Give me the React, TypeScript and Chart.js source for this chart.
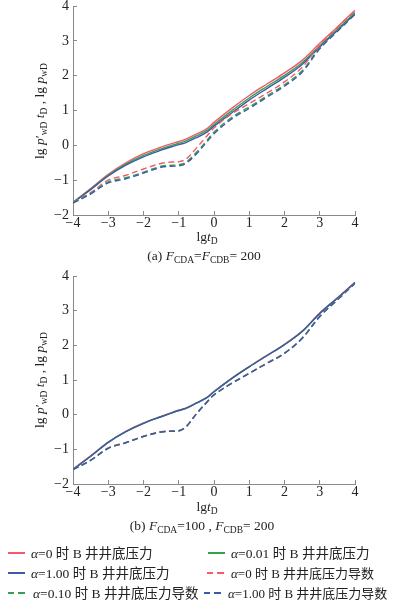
import React, { useEffect, useRef } from "react";
import { Chart, registerables } from "chart.js";

Chart.register(...registerables);

// lg tD sample points
const tD = [-4, -3.5, -3, -2.5, -2, -1.5, -1.2, -1, -0.8, -0.5, -0.2, 0, 0.5, 1, 1.5, 2, 2.5, 3, 3.5, 4];

// (a) FCDA = FCDB = 200
const aRedP = [-1.63, -1.24, -0.83, -0.5, -0.24, -0.05, 0.05, 0.11, 0.18, 0.32, 0.48, 0.66, 1.06, 1.43, 1.76, 2.08, 2.44, 2.93, 3.4, 3.88];
const aGreenP = [-1.64, -1.26, -0.86, -0.54, -0.29, -0.1, 0, 0.06, 0.13, 0.27, 0.43, 0.6, 0.99, 1.36, 1.69, 2.01, 2.37, 2.86, 3.33, 3.81];
const aBlueP = [-1.65, -1.27, -0.88, -0.57, -0.33, -0.14, -0.04, 0.02, 0.08, 0.22, 0.38, 0.55, 0.93, 1.3, 1.63, 1.95, 2.32, 2.82, 3.3, 3.78];
const aRedD = [-1.64, -1.36, -1.0, -0.86, -0.68, -0.52, -0.48, -0.47, -0.4, -0.08, 0.27, 0.5, 0.9, 1.2, 1.5, 1.82, 2.24, 2.88, 3.38, 3.87];
const aGreenD = [-1.65, -1.38, -1.05, -0.93, -0.77, -0.6, -0.57, -0.56, -0.49, -0.2, 0.14, 0.38, 0.8, 1.1, 1.42, 1.74, 2.14, 2.8, 3.3, 3.78];
const aBlueD = [-1.66, -1.4, -1.08, -0.96, -0.8, -0.63, -0.6, -0.59, -0.52, -0.25, 0.1, 0.33, 0.76, 1.06, 1.38, 1.7, 2.1, 2.77, 3.27, 3.76];

// (b) FCDA = 100, FCDB = 200
const bRedP = [-1.57, -1.19, -0.79, -0.48, -0.24, -0.05, 0.06, 0.13, 0.19, 0.34, 0.5, 0.67, 1.05, 1.39, 1.71, 2.03, 2.41, 2.93, 3.37, 3.82];
const bGreenP = [-1.58, -1.2, -0.8, -0.49, -0.25, -0.06, 0.05, 0.12, 0.18, 0.33, 0.49, 0.66, 1.04, 1.38, 1.7, 2.02, 2.4, 2.92, 3.36, 3.81];
const bBlueP = [-1.58, -1.2, -0.8, -0.49, -0.25, -0.06, 0.05, 0.12, 0.18, 0.33, 0.49, 0.66, 1.04, 1.38, 1.7, 2.02, 2.4, 2.92, 3.36, 3.81];
const bRedD = [-1.58, -1.31, -0.96, -0.8, -0.62, -0.49, -0.47, -0.46, -0.35, 0.03, 0.37, 0.58, 0.91, 1.2, 1.49, 1.78, 2.21, 2.84, 3.32, 3.8];
const bGreenD = [-1.58, -1.32, -0.97, -0.81, -0.63, -0.5, -0.48, -0.47, -0.36, 0.02, 0.36, 0.57, 0.9, 1.19, 1.48, 1.77, 2.2, 2.83, 3.31, 3.79];
const bBlueD = [-1.58, -1.32, -0.97, -0.81, -0.63, -0.5, -0.48, -0.47, -0.36, 0.02, 0.36, 0.57, 0.9, 1.19, 1.48, 1.77, 2.2, 2.83, 3.31, 3.79];

const xTicks = [-4, -3, -2, -1, 0, 1, 2, 3, 4];
const yTicks = [-2, -1, 0, 1, 2, 3, 4];

const RED = "#f25a66";
const GREEN = "#35a050";
const BLUE = "#3b5ba8";

const legendItems = [
  { color: RED, dash: false, a: "0", tail: "井井底压力" },
  { color: GREEN, dash: false, a: "0.01", tail: "井井底压力" },
  { color: BLUE, dash: false, a: "1.00", tail: "井井底压力" },
  { color: RED, dash: true, a: "0", tail: "井井底压力导数" },
  { color: GREEN, dash: true, a: "0.10", tail: "井井底压力导数" },
  { color: BLUE, dash: true, a: "1.00", tail: "井井底压力导数" },
];

const SERIF = "'Liberation Serif', 'Times New Roman', serif";
const CJK = "'Noto Sans CJK SC', sans-serif";

const fmt = (v: number) => (v < 0 ? "\u2212" + Math.abs(v) : String(v));

function makeConfig(series: { values: number[]; color: string; dash: boolean; order: number }[], bottomH: number): any {
  const tickFont = { family: SERIF, size: 14 };
  return {
    type: "line",
    data: {
      datasets: series.map((s) => ({
        data: tD.map((x, i) => ({ x, y: s.values[i] })),
        borderColor: s.color,
        borderWidth: 1.4,
        borderDash: s.dash ? [6, 3.5] : [],
        pointRadius: 0,
        tension: 0.35,
        fill: false,
        order: s.order,
      })),
    },
    options: {
      animation: false,
      responsive: false,
      maintainAspectRatio: false,
      layout: { padding: { left: 0, right: 39, top: 26, bottom: 0 } },
      plugins: { legend: { display: false }, tooltip: { enabled: false } },
      scales: {
        x: {
          type: "linear",
          min: xTicks[0],
          max: xTicks[xTicks.length - 1],
          afterBuildTicks: (s: any) => {
            s.ticks = xTicks.map((v) => ({ value: v }));
          },
          ticks: { padding: 4, font: tickFont, color: "#222", callback: (v: any) => fmt(Number(v)), maxRotation: 0 },
          grid: { drawOnChartArea: false, tickLength: -4, color: "#8a8a8a" },
          border: { color: "#8a8a8a", width: 1 },
          afterFit: (s: any) => {
            s.height = bottomH;
          },
        },
        y: {
          type: "linear",
          min: yTicks[0],
          max: yTicks[yTicks.length - 1],
          afterBuildTicks: (s: any) => {
            s.ticks = yTicks.map((v) => ({ value: v }));
          },
          ticks: { padding: 8, font: tickFont, color: "#222", callback: (v: any) => fmt(Number(v)) },
          grid: { drawOnChartArea: false, tickLength: -4, color: "#8a8a8a" },
          border: { color: "#8a8a8a", width: 1 },
          afterFit: (s: any) => {
            s.width = 73;
          },
        },
      },
    },
  };
}

function Sub({ children }: { children: any }) {
  return <span style={{ fontSize: "9.5px", position: "relative", top: "3px" }}>{children}</span>;
}

function YTitle({ cy }: { cy: number }) {
  return (
    <div
      style={{
        position: "absolute",
        left: 40,
        top: cy,
        transform: "translate(-50%, -50%) rotate(-90deg)",
        whiteSpace: "nowrap",
        fontFamily: SERIF,
        fontSize: "13.5px",
        color: "#222",
        lineHeight: "14px",
      }}
    >
      lg <i>p</i>′<Sub>wD</Sub> <i>t</i>
      <Sub>D</Sub> , lg <i>p</i>
      <Sub>wD</Sub>
    </div>
  );
}

function Centered({ cx, cy, children }: { cx: number; cy: number; children: any }) {
  return (
    <div
      style={{
        position: "absolute",
        left: cx,
        top: cy,
        transform: "translate(-50%, -50%)",
        whiteSpace: "nowrap",
        fontFamily: SERIF,
        fontSize: "13.5px",
        color: "#222",
        lineHeight: "14px",
      }}
    >
      {children}
    </div>
  );
}

function LegendEntry({ item, left, textLeft, cy, size }: { item: any; left: number; textLeft: number; cy: number; size: number }) {
  const seg = item.dash ? (
    <>
      <div style={{ position: "absolute", left, top: cy - 1, width: 6, height: 0, borderTop: `2px solid ${item.color}` }} />
      <div style={{ position: "absolute", left: left + 10, top: cy - 1, width: 7, height: 0, borderTop: `2px solid ${item.color}` }} />
    </>
  ) : (
    <div style={{ position: "absolute", left, top: cy - 1, width: 17, height: 0, borderTop: `2px solid ${item.color}` }} />
  );
  return (
    <>
      {seg}
      <div
        style={{
          position: "absolute",
          left: textLeft,
          top: cy,
          transform: "translateY(-50%)",
          whiteSpace: "nowrap",
          fontSize: size + "px",
          lineHeight: "16px",
          color: "#222",
          fontFamily: SERIF,
        }}
      >
        <i>α</i>=<span>{item.a}</span> <span style={{ fontFamily: CJK }}>时</span> B{" "}
        <span style={{ fontFamily: CJK }}>{item.tail}</span>
      </div>
    </>
  );
}

export default function App() {
  const refA = useRef<HTMLCanvasElement | null>(null);
  const refB = useRef<HTMLCanvasElement | null>(null);

  useEffect(() => {
    const cA = new Chart(
      refA.current as HTMLCanvasElement,
      makeConfig(
        [
          { values: aRedP, color: RED, dash: false, order: 5 },
          { values: aGreenP, color: GREEN, dash: false, order: 4 },
          { values: aBlueP, color: BLUE, dash: false, order: 3 },
          { values: aRedD, color: RED, dash: true, order: 2 },
          { values: aGreenD, color: GREEN, dash: true, order: 1 },
          { values: aBlueD, color: BLUE, dash: true, order: 0 },
        ],
        35
      )
    );
    const cB = new Chart(
      refB.current as HTMLCanvasElement,
      makeConfig(
        [
          { values: bRedP, color: RED, dash: false, order: 5 },
          { values: bGreenP, color: GREEN, dash: false, order: 4 },
          { values: bBlueP, color: BLUE, dash: false, order: 3 },
          { values: bRedD, color: RED, dash: true, order: 2 },
          { values: bGreenD, color: GREEN, dash: true, order: 1 },
          { values: bBlueD, color: BLUE, dash: true, order: 0 },
        ],
        36
      )
    );
    return () => {
      cA.destroy();
      cB.destroy();
    };
  }, []);

  const rows = [553, 573, 593];

  return (
    <div style={{ position: "absolute", left: 0, top: 0, width: 394, height: 605, background: "#fff", overflow: "hidden" }}>
      <canvas ref={refA} width={394} height={270} style={{ position: "absolute", left: 0, top: -20, width: 394, height: 270 }} />
      <canvas ref={refB} width={394} height={270} style={{ position: "absolute", left: 0, top: 250, width: 394, height: 270 }} />

      <YTitle cy={111} />
      <YTitle cy={380} />

      <Centered cx={207} cy={237}>
        lg<i>t</i>
        <Sub>D</Sub>
      </Centered>
      <Centered cx={204} cy={256}>
        (a) <i>F</i>
        <Sub>CDA</Sub>=<i>F</i>
        <Sub>CDB</Sub>= 200
      </Centered>

      <Centered cx={207} cy={507}>
        lg<i>t</i>
        <Sub>D</Sub>
      </Centered>
      <Centered cx={202} cy={526}>
        (b) <i>F</i>
        <Sub>CDA</Sub>=100 , <i>F</i>
        <Sub>CDB</Sub>= 200
      </Centered>

      <LegendEntry item={legendItems[0]} left={8} textLeft={31} cy={rows[0]} size={13.5} />
      <LegendEntry item={legendItems[1]} left={208} textLeft={231} cy={rows[0]} size={13.5} />
      <LegendEntry item={legendItems[2]} left={8} textLeft={31} cy={rows[1]} size={13.5} />
      <LegendEntry item={legendItems[3]} left={207} textLeft={231} cy={rows[1]} size={13} />
      <LegendEntry item={legendItems[4]} left={8} textLeft={33} cy={rows[2]} size={13.5} />
      <LegendEntry item={legendItems[5]} left={204} textLeft={228} cy={rows[2]} size={13} />
    </div>
  );
}
